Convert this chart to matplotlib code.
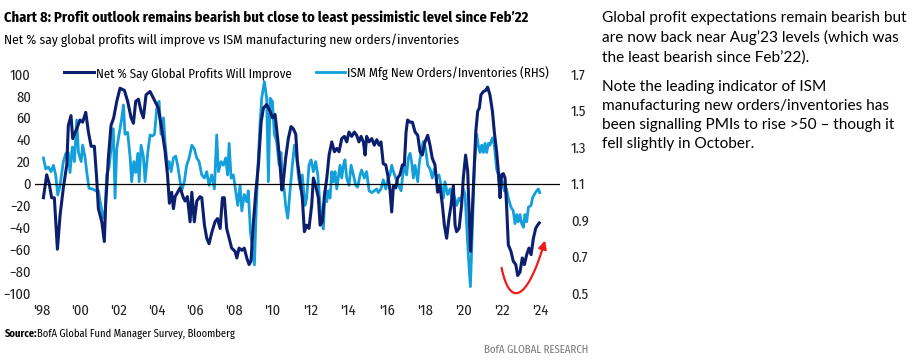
import matplotlib
matplotlib.use("Agg")
import matplotlib.pyplot as plt
from matplotlib.path import Path
from matplotlib.patches import FancyArrowPatch

# Net % say global profits will improve (LHS)
profit_years = [1998.07, 1998.24, 1998.37, 1998.50, 1998.64, 1998.80, 1998.94, 1999.11, 1999.29, 1999.37,
                1999.51, 1999.60, 1999.81, 1999.98, 2000.12, 2000.28, 2000.42, 2000.56, 2000.73, 2000.85,
                2000.94, 2001.12, 2001.25, 2001.32, 2001.46, 2001.60, 2001.74, 2001.90, 2002.07, 2002.30,
                2002.47, 2002.65, 2002.77, 2002.89, 2003.03, 2003.17, 2003.29, 2003.43, 2003.64, 2003.90,
                2004.07, 2004.25, 2004.42, 2004.55, 2004.65, 2004.77, 2004.86, 2004.95, 2005.08, 2005.21,
                2005.38, 2005.47, 2005.59, 2005.73, 2005.82, 2005.95, 2006.08, 2006.25, 2006.34, 2006.48,
                2006.60, 2006.72, 2006.86, 2007.03, 2007.16, 2007.30, 2007.42, 2007.52, 2007.64, 2007.77,
                2007.90, 2008.08, 2008.17, 2008.29, 2008.43, 2008.56, 2008.69, 2008.81, 2008.91, 2009.04,
                2009.16, 2009.30, 2009.44, 2009.56, 2009.73, 2009.91, 2010.03, 2010.17, 2010.31, 2010.43,
                2010.52, 2010.60, 2010.72, 2010.86, 2011.00, 2011.12, 2011.25, 2011.33, 2011.47, 2011.59,
                2011.70, 2011.82, 2011.94, 2012.08, 2012.17, 2012.29, 2012.43, 2012.52, 2012.64, 2012.74,
                2012.87, 2012.99, 2013.13, 2013.27, 2013.39, 2013.51, 2013.65, 2013.79, 2013.91, 2014.03,
                2014.17, 2014.31, 2014.43, 2014.55, 2014.66, 2014.78, 2014.87, 2014.95, 2015.08, 2015.22,
                2015.35, 2015.48, 2015.60, 2015.70, 2015.82, 2015.95, 2016.05, 2016.17, 2016.26, 2016.35,
                2016.47, 2016.57, 2016.69, 2016.82, 2016.92, 2017.01, 2017.09, 2017.22, 2017.34, 2017.48,
                2017.62, 2017.74, 2017.86, 2018.00, 2018.14, 2018.26, 2018.38, 2018.52, 2018.66, 2018.78,
                2018.91, 2019.01, 2019.13, 2019.25, 2019.36, 2019.48, 2019.57, 2019.65, 2019.78, 2019.91,
                2020.00, 2020.12, 2020.23, 2020.30, 2020.38, 2020.47, 2020.58, 2020.65, 2020.75, 2020.84,
                2020.92, 2021.05, 2021.17, 2021.27, 2021.39, 2021.52, 2021.62, 2021.74, 2021.83, 2021.92,
                2022.00, 2022.09, 2022.18, 2022.26, 2022.35, 2022.49, 2022.61, 2022.74, 2022.84, 2022.96,
                2023.08, 2023.19, 2023.31, 2023.43, 2023.54, 2023.66, 2023.78, 2023.88, 2023.97]
profit_values = [-13, 8, 0, -13, -13, -60, -29, -4, 17, 53,
                 62, 41, 50, 58, 56, 65, 47, 34, 34, 5,
                 -23, -35, -53, -20, 23, 53, 60, 75, 87, 85,
                 75, 60, 55, 75, 77, 66, 60, 81, 84, 75,
                 69, 50, 30, 8, -18, -8, -23, -12, -8, -4,
                 -13, -16, -12, -35, -8, -35, -16, -12, -13, -38,
                 -50, -55, -45, -35, -32, -41, -13, -13, -41, -50,
                 -59, -62, -68, -59, -61, -59, -68, -74, -71, -35,
                 -8, 17, 56, 69, 72, 66, 60, 63, 40, 17,
                 -6, 2, 23, 41, 52, 50, 45, 21, 3, -13,
                 -44, -38, -41, -20, 5, -2, -13, -38, -35, -12,
                 5, 26, 38, 29, 32, 29, 41, 43, 38, 47,
                 43, 47, 44, 38, 43, 38, 26, 43, 38, 41,
                 35, 40, 35, 38, 18, 17, 8, -6, -26, -2,
                 -4, 5, 8, 17, 17, 47, 58, 56, 56, 47,
                 44, 29, 26, 38, 44, 35, 23, 17, -8, -2,
                 -20, -38, -50, -32, -20, -2, -38, -44, -41, -20,
                 5, 26, 11, -26, -62, -26, 17, 47, 66, 69,
                 81, 84, 85, 88, 81, 66, 47, 29, 11, -13,
                 8, 9, 5, -20, -56, -62, -71, -74, -84, -81,
                 -68, -74, -65, -59, -65, -50, -41, -38, -36]

# ISM manufacturing new orders / inventories (RHS)
ism_years = [1998.07, 1998.19, 1998.33, 1998.47, 1998.59, 1998.71, 1998.82, 1998.94, 1999.11, 1999.24,
             1999.37, 1999.46, 1999.58, 1999.69, 1999.81, 1999.90, 2000.04, 2000.12, 2000.25, 2000.33,
             2000.45, 2000.63, 2000.80, 2000.94, 2001.05, 2001.20, 2001.29, 2001.38, 2001.50, 2001.60,
             2001.72, 2001.81, 2001.90, 2002.02, 2002.16, 2002.25, 2002.33, 2002.47, 2002.60, 2002.68,
             2002.79, 2002.89, 2003.00, 2003.07, 2003.17, 2003.29, 2003.38, 2003.52, 2003.64, 2003.76,
             2003.87, 2003.99, 2004.11, 2004.21, 2004.34, 2004.42, 2004.56, 2004.64, 2004.74, 2004.86,
             2004.98, 2005.08, 2005.21, 2005.29, 2005.43, 2005.55, 2005.68, 2005.82, 2005.95, 2006.08,
             2006.20, 2006.34, 2006.48, 2006.60, 2006.72, 2006.86, 2007.00, 2007.12, 2007.21, 2007.35,
             2007.47, 2007.59, 2007.69, 2007.77, 2007.87, 2007.99, 2008.11, 2008.22, 2008.34, 2008.43,
             2008.56, 2008.69, 2008.77, 2008.88, 2008.98, 2009.09, 2009.16, 2009.26, 2009.38, 2009.47,
             2009.61, 2009.73, 2009.82, 2009.91, 2010.03, 2010.13, 2010.25, 2010.38, 2010.48, 2010.55,
             2010.65, 2010.72, 2010.83, 2010.95, 2011.07, 2011.18, 2011.30, 2011.40, 2011.50, 2011.59,
             2011.73, 2011.82, 2011.94, 2012.05, 2012.17, 2012.29, 2012.40, 2012.46, 2012.57, 2012.69,
             2012.78, 2012.87, 2012.95, 2013.04, 2013.13, 2013.21, 2013.30, 2013.39, 2013.47, 2013.56,
             2013.65, 2013.74, 2013.82, 2013.91, 2014.03, 2014.14, 2014.26, 2014.38, 2014.48, 2014.61,
             2014.69, 2014.83, 2014.95, 2015.08, 2015.22, 2015.35, 2015.48, 2015.56, 2015.70, 2015.82,
             2015.95, 2016.05, 2016.17, 2016.26, 2016.35, 2016.47, 2016.61, 2016.75, 2016.82, 2016.92,
             2017.04, 2017.13, 2017.22, 2017.30, 2017.39, 2017.48, 2017.62, 2017.69, 2017.79, 2017.91,
             2018.03, 2018.14, 2018.26, 2018.38, 2018.49, 2018.61, 2018.73, 2018.84, 2018.96, 2019.04,
             2019.18, 2019.31, 2019.43, 2019.53, 2019.65, 2019.78, 2019.88, 2020.00, 2020.09, 2020.17,
             2020.26, 2020.37, 2020.47, 2020.58, 2020.70, 2020.78, 2020.87, 2020.96, 2021.05, 2021.13,
             2021.22, 2021.31, 2021.39, 2021.52, 2021.62, 2021.74, 2021.83, 2021.92, 2022.04, 2022.14,
             2022.26, 2022.35, 2022.49, 2022.61, 2022.70, 2022.79, 2022.87, 2022.96, 2023.05, 2023.14,
             2023.22, 2023.31, 2023.40, 2023.54, 2023.61, 2023.71, 2023.83, 2023.92, 2023.99]
ism_values = [1.24, 1.18, 1.19, 1.165, 1.20, 1.147, 1.037, 1.09, 1.22, 1.265,
              1.27, 1.16, 1.30, 1.22, 1.448, 1.27, 1.22, 1.31, 1.24, 1.165,
              1.074, 1.07, 1.06, 1.06, 0.99, 0.91, 0.95, 1.15, 1.19, 1.29,
              1.40, 1.02, 1.29, 1.37, 1.457, 1.53, 1.37, 1.38, 1.24, 1.11,
              1.22, 1.16, 1.265, 1.11, 1.31, 1.25, 1.11, 1.27, 1.366, 1.36,
              1.37, 1.51, 1.55, 1.37, 1.46, 1.33, 1.18, 1.22, 1.165, 1.24,
              1.25, 1.20, 1.11, 1.06, 1.11, 1.20, 1.24, 1.31, 1.29, 1.24,
              1.22, 1.147, 1.13, 1.165, 1.09, 1.147, 1.07, 1.366, 1.165, 1.22,
              1.20, 1.24, 1.147, 1.32, 1.13, 1.147, 1.06, 0.98, 1.09, 0.95,
              1.04, 1.00, 1.06, 0.836, 0.75, 0.654, 0.88, 1.165, 1.42, 1.567,
              1.658, 1.567, 1.11, 1.567, 1.55, 1.37, 1.33, 1.20, 1.27, 1.13,
              1.06, 0.98, 0.91, 1.06, 1.20, 1.31, 1.24, 1.13, 1.07, 1.147,
              0.98, 1.02, 1.20, 1.23, 1.165, 1.22, 1.147, 1.06, 0.91, 0.85,
              1.06, 1.00, 1.06, 1.02, 1.165, 1.11, 1.165, 1.07, 1.13, 1.20,
              1.13, 1.20, 1.23, 1.13, 1.09, 1.20, 1.147, 1.09, 1.08, 1.147,
              1.174, 1.13, 1.165, 1.06, 1.05, 1.06, 1.07, 1.05, 1.07, 1.12,
              1.07, 1.12, 1.147, 1.20, 1.165, 1.13, 1.09, 1.06, 1.13, 1.20,
              1.147, 1.24, 1.265, 1.22, 1.13, 1.20, 1.11, 1.20, 1.27, 1.33,
              1.29, 1.20, 1.18, 1.13, 1.18, 1.13, 1.147, 1.09, 1.02, 1.11,
              1.04, 1.07, 1.00, 1.03, 0.98, 1.02, 1.00, 1.07, 1.04, 0.88,
              0.71, 0.535, 0.84, 1.20, 1.37, 1.31, 1.27, 1.31, 1.27, 1.32,
              1.27, 1.32, 1.31, 1.35, 1.31, 1.18, 1.147, 1.07, 1.11, 1.06,
              1.07, 1.02, 0.97, 0.95, 0.88, 0.93, 0.89, 0.93, 0.88, 0.86,
              0.93, 0.89, 0.97, 0.98, 1.02, 1.04, 1.06, 1.07, 1.05]

tick_years = list(range(1998, 2025, 2))
tick_labels = ["'98", "'00", "'02", "'04", "'06", "'08", "'10", "'12", "'14", "'16", "'18", "'20", "'22", "'24"]

NAVY = "#0b1f6e"
LIGHT = "#139fdb"
# condensed chart font, with fallbacks
CHART_FONT = ["Fira Sans Condensed", "Roboto Condensed", "Liberation Sans Narrow", "Roboto"]
NOTE_FONT = ["Lato", "DejaVu Sans"]

plt.rcParams["font.family"] = CHART_FONT

fig = plt.figure(figsize=(9.22, 3.63), dpi=100)
ax = fig.add_axes([35 / 922, 70 / 363, 525 / 922, 219 / 363])
ax2 = ax.twinx()

l1, = ax.plot(profit_years, profit_values, color=NAVY, lw=2.2, zorder=2)
l2, = ax2.plot(ism_years, ism_values, color=LIGHT, lw=2.0, zorder=1)
ax.set_zorder(ax2.get_zorder() + 1)
ax.patch.set_visible(False)
ax.axhline(0, color="black", lw=0.9, zorder=3)

ax.set_xlim(1997.63, 2025.05)
ax.set_ylim(-100, 100)
ax2.set_ylim(0.5, 1.7)
ax.set_yticks(range(-100, 101, 20))
ax2.set_yticks([0.5, 0.7, 0.9, 1.1, 1.3, 1.5, 1.7])
ax2.set_yticklabels(["0.5", "0.7", "0.9", "1.1", "1.3", "1.5", "1.7"])
ax.set_xticks(tick_years)
ax.set_xticklabels(tick_labels)

for a in (ax, ax2):
    for s in a.spines.values():
        s.set_visible(False)
ax.tick_params(axis="both", length=0, labelsize=10.5, colors="#222222")
ax.tick_params(axis="y", pad=3)
ax.tick_params(axis="x", pad=8)
ax2.tick_params(axis="y", length=0, labelsize=10.5, colors="#222222", pad=8)

# red "turning up" arrow under the recent trough
arrow_path = Path([(2022.0, -77), (2022.39, -111), (2023.27, -111), (2024.27, -52)],
                  [Path.MOVETO, Path.CURVE4, Path.CURVE4, Path.CURVE4])
arrow = FancyArrowPatch(path=arrow_path, arrowstyle="-|>", mutation_scale=12,
                        color="#ee1c1c", lw=1.6, clip_on=False)
ax.add_patch(arrow)

ax.legend([l1, l2], ["Net % Say Global Profits Will Improve", "ISM Mfg New Orders/Inventories (RHS)"],
          loc="upper center", bbox_to_anchor=(0.517, 1.09), ncol=2, frameon=False,
          fontsize=9.2, handlelength=2.3, columnspacing=1.9, handletextpad=0.15)

fig.text(4 / 922, 1 - 18 / 363, "Chart 8: Profit outlook remains bearish but close to least pessimistic level since Feb\u201922",
         fontsize=10.5, fontweight="bold", va="center", ha="left", color="black")
fig.text(4 / 922, 1 - 40 / 363, "Net % say global profits will improve vs ISM manufacturing new orders/inventories",
         fontsize=9.6, va="center", ha="left", color="black")
fig.text(5 / 922, 1 - 334 / 363, "Source:", fontsize=7.6, fontweight="bold", va="center", ha="left")
fig.text(37 / 922, 1 - 334 / 363, "BofA Global Fund Manager Survey, Bloomberg", fontsize=7.6, va="center", ha="left")
fig.text(588 / 922, 1 - 350 / 363, "BofA GLOBAL RESEARCH", fontsize=7.8, va="center", ha="right", color="#777777")

note1 = ("Global profit expectations remain bearish but\n"
         "are now back near Aug\u201923 levels (which was\n"
         "the least bearish since Feb\u201922).")
note2 = ("Note the leading indicator of ISM\n"
         "manufacturing new orders/inventories has\n"
         "been signalling PMIs to rise >50 \u2013 though it\n"
         "fell slightly in October.")
fig.text(602 / 922, 1 - 11 / 363, note1, fontsize=11.1, family=NOTE_FONT,
         va="top", ha="left", linespacing=1.45)
fig.text(602 / 922, 1 - 80 / 363, note2, fontsize=11.1, family=NOTE_FONT,
         va="top", ha="left", linespacing=1.45)

fig.savefig("out.png", dpi=100)
